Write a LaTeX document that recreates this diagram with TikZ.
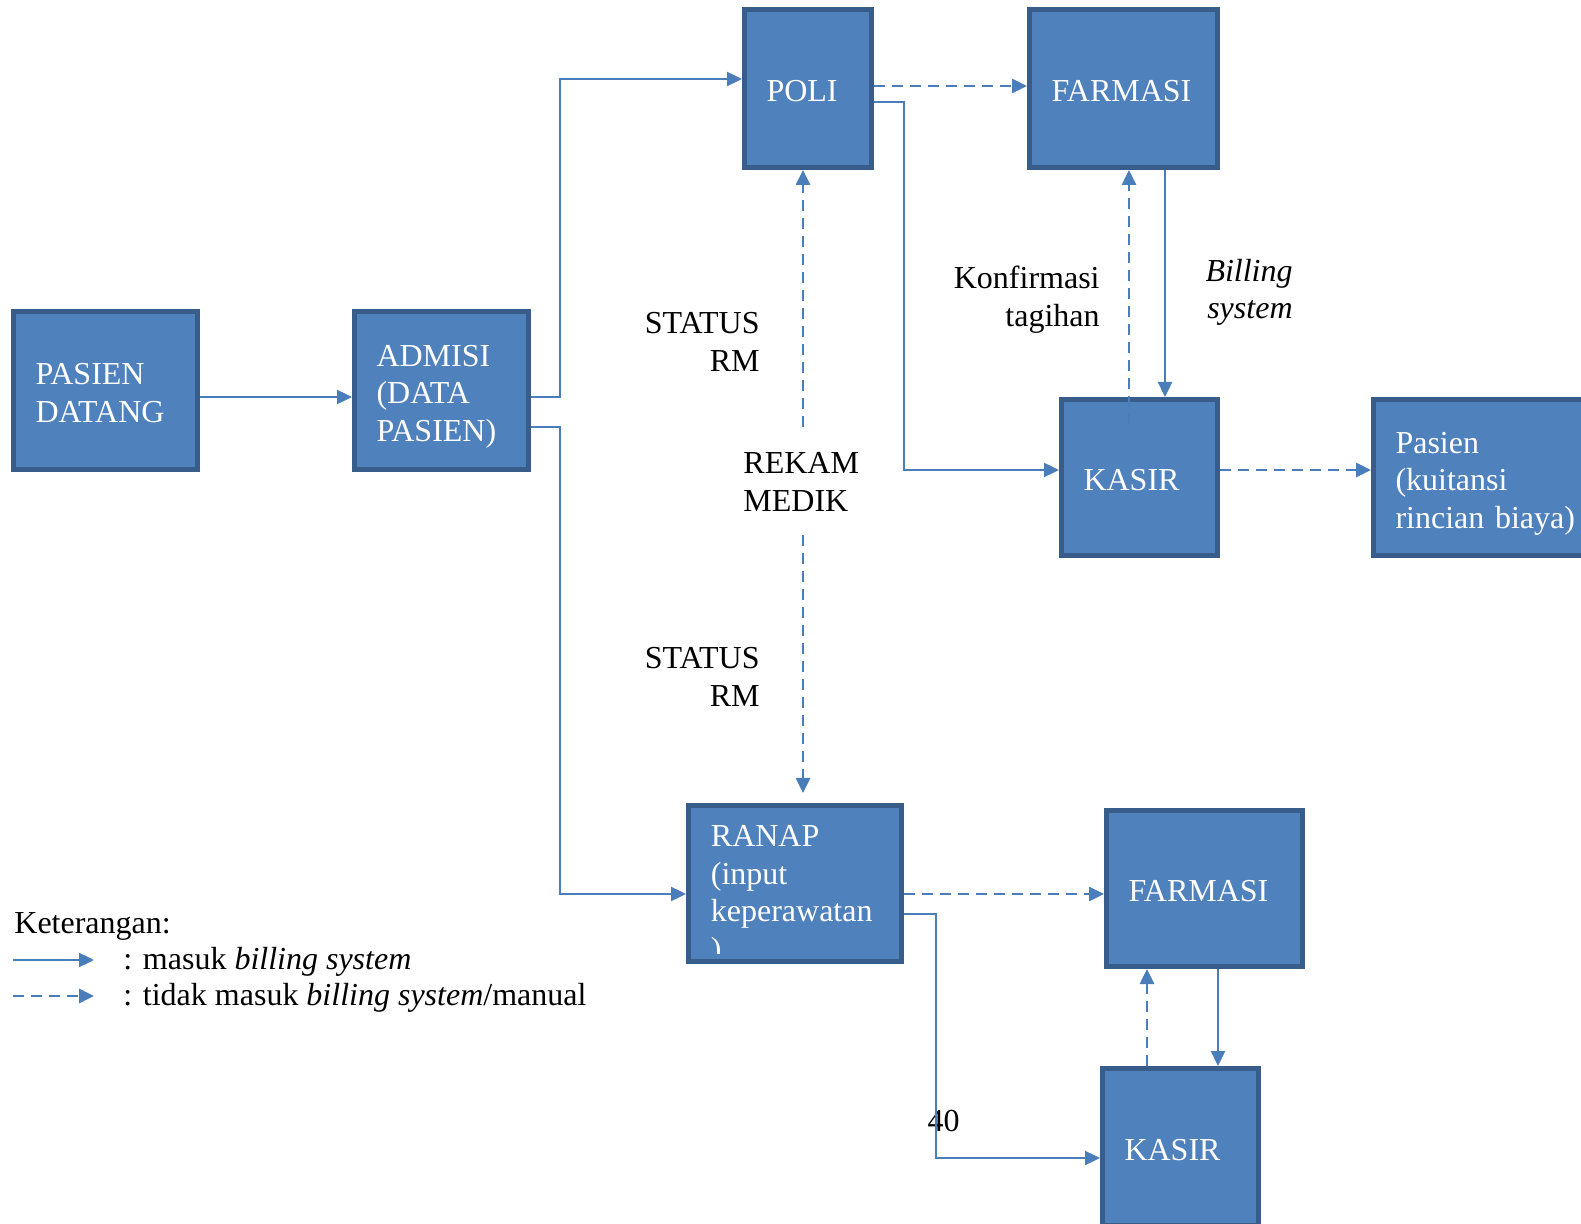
\documentclass[tikz,border=0pt]{standalone}
\usepackage{fontspec}
\setmainfont{Liberation Serif}
\usetikzlibrary{arrows.meta,calc}

\definecolor{boxfill}{HTML}{4F81BD}
\definecolor{boxline}{HTML}{385D8A}
\definecolor{linkcol}{HTML}{4A7EBB}

\newcommand\boxfont{\fontsize{16}{18.75}\selectfont}
% fixed line height and depth so every box sets its text at the same place
\newcommand\topstrut{\rule{0pt}{17.1pt}}
\newcommand\botstrut{\rule[-4pt]{0pt}{4pt}}

% process box given by its outer edges (pixel units): [extra opts]{name}{x1}{y1}{x2}{y2}{text}
\newcommand\mkbox[7][]{%
  \pgfmathsetmacro\bw{(#5-#3-5)*0.5}%
  \pgfmathsetmacro\bh{(#6-#4-5)*0.5}%
  \pgfmathsetmacro\tw{\bw-22}%
  \node[procbox, minimum width=\bw pt, minimum height=\bh pt, text width=\tw pt, #1]
    (#2) at ({(#3+#5)/2},{(#4+#6)/2}) {#7};%
}

\begin{document}
\begin{tikzpicture}[x=0.5pt,y=-0.5pt,
  procbox/.style={draw=boxline, fill=boxfill, line width=2.5pt, text=white,
    font=\boxfont, align=left, inner xsep=11pt, inner ysep=0pt},
  boxtext/.style={text=white, font=\boxfont, align=left, inner sep=0pt},
  lbl/.style={text=black, font=\boxfont, inner sep=0pt},
  link/.style={draw=linkcol, line width=1.2pt, -{Triangle[length=7.5pt,width=7pt]}},
  dlink/.style={link, line width=1.3pt, dash pattern=on 5.5pt off 3.5pt}]

\clip (0,0) rectangle (1581,1224);

% ---- process boxes ----
\mkbox{pd}{11}{309}{200}{472}{\topstrut PASIEN\\DATANG\botstrut}
\mkbox{adm}{352}{309}{531}{472}{\topstrut ADMISI\\(DATA\\PASIEN)\botstrut}
\mkbox{poli}{742}{7}{874}{170}{\topstrut POLI\botstrut}
\mkbox{farm1}{1027}{7}{1220}{170}{\topstrut FARMASI\botstrut}
\mkbox{kasir1}{1059}{397}{1220}{558}{\topstrut KASIR\botstrut}
\mkbox{pas}{1371}{397}{1620}{558}{\topstrut Pasien\\(kuitansi\\rincian biaya)\botstrut}
\mkbox{ranap}{686}{803}{904}{964}{}
\mkbox{farm2}{1104}{808}{1305}{969}{\topstrut FARMASI\botstrut}
\mkbox{kasir2}{1100}{1066}{1261}{1228}{\topstrut KASIR\botstrut}

% the RANAP text runs past the foot of its box and is cut there
\begin{scope}
  \clip ($(ranap.south west)+(2.5,-10.5)$) rectangle ($(ranap.north east)+(-2.5,2.5)$);
  \node[boxtext, anchor=west] (ranaptext) at ($(ranap.west)+(24.5,12.5)$)
    {RANAP\\(input\\keperawatan\\)};
\end{scope}

% ---- labels ----
\node[lbl, align=right, anchor=east] (st1) at (760,342) {STATUS\\RM};
\node[lbl, align=left, anchor=west] (rek) at (743,482) {REKAM\\MEDIK};
\node[lbl, align=right, anchor=east] (st2) at (760,677) {STATUS\\RM};
\node[lbl, align=right, anchor=east] (konf) at (1100,299.5) {Konfirmasi\\tagihan};
\node[lbl, align=right, anchor=east] (bill) at (1293,292.5) {\textit{Billing}\\\textit{system}};
\node[lbl] (pg) at (943.5,1121.5) {40};

% ---- legend ----
\node[lbl, anchor=base west] (ket) at (14,934) {Keterangan:};
\node[lbl, anchor=base west] (lg1) at (123,970) {: masuk \textit{billing system}};
\node[lbl, anchor=base west] (lg2) at (123,1005) {: tidak masuk \textit{billing system}/manual};
\coordinate (l1a) at (13,960);
\coordinate (l1b) at (94,960);
\coordinate (l2a) at (13,996);
\coordinate (l2b) at (94,996);
\draw[link] (l1a) -- (l1b);
\draw[dlink] (l2a) -- (l2b);

% ---- connectors ----
\coordinate (a1) at ($(pd.east)+(0,6.5)$);
\draw[link] (a1) -- (a1 -| adm.west);

\coordinate (a2) at ($(adm.east)+(0,6.5)$);
\coordinate (b2) at ($(poli.west)+(0,-9.5)$);
\draw[link] (a2) -- ++(29,0) |- (b2);

\coordinate (a3) at ($(adm.east)+(0,36.5)$);
\coordinate (b3) at ($(ranap.west)+(0,10.5)$);
\draw[link] (a3) -- ++(29,0) |- (b3);

\coordinate (a4) at ($(poli.east)+(0,-2.5)$);
\draw[dlink] (a4) -- (a4 -| farm1.west);

\coordinate (a5) at ($(poli.east)+(0,13.5)$);
\coordinate (b5) at ($(kasir1.west)+(0,-7.5)$);
\draw[link] (a5) -- ++(30,0) |- (b5);

\coordinate (rm1) at (803,427);
\coordinate (rm2) at (803,535);
\draw[dlink] (rm1) -- (rm1 |- poli.south);
\draw[dlink, shorten >=5pt] (rm2) -- (rm2 |- ranap.north);

\coordinate (a7) at ($(kasir1.north)+(-10.5,28)$);
\draw[dlink] (a7) -- (a7 |- farm1.south);

\coordinate (a8) at ($(farm1.south)+(41.5,0)$);
\draw[link] (a8) -- (a8 |- kasir1.north);

\coordinate (a9) at ($(kasir1.east)+(0,-7.5)$);
\draw[dlink] (a9) -- (a9 -| pas.west);

\coordinate (a10) at ($(ranap.east)+(0,10.5)$);
\draw[dlink] (a10) -- (a10 -| farm2.west);

\coordinate (a11) at ($(ranap.east)+(0,30.5)$);
\coordinate (b11) at ($(kasir2.west)+(0,11)$);
\draw[link] (a11) -- ++(32,0) |- (b11);

\coordinate (a12) at ($(kasir2.north)+(-33.5,0)$);
\draw[dlink] (a12) -- (a12 |- farm2.south);

\coordinate (a13) at ($(farm2.south)+(13.5,0)$);
\draw[link] (a13) -- (a13 |- kasir2.north);

\end{tikzpicture}
\end{document}
